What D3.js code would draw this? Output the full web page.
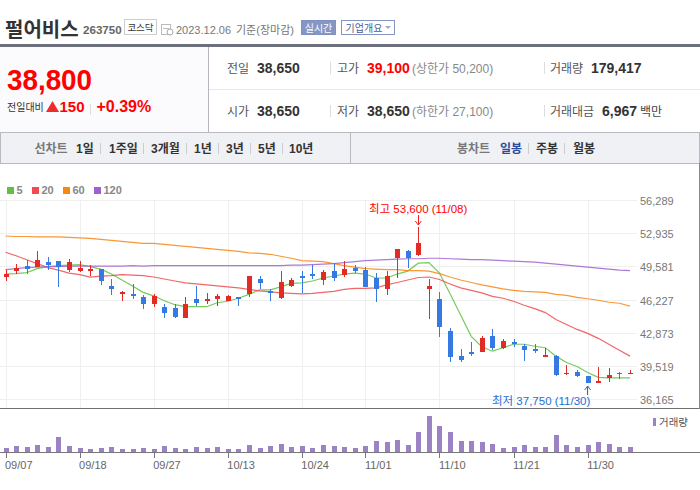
<!DOCTYPE html>
<html>
<head>
<meta charset="utf-8">
<script src="https://d3js.org/d3.v7.min.js"></script>
<style>
  html, body { margin: 0; padding: 0; background: #fff; }
  svg { display: block; font-family: "Liberation Sans", "Noto Sans CJK KR", sans-serif; }
</style>
</head>
<body>
<svg id="chart" width="700" height="490"></svg>
<script>
// values
var dates = ['09/07','09/08','09/11','09/12','09/13','09/14','09/15','09/18','09/19','09/20',
  '09/21','09/22','09/25','09/26','09/27','10/04','10/05','10/06','10/10','10/11',
  '10/12','10/13','10/16','10/17','10/18','10/19','10/20','10/23','10/24','10/25',
  '10/26','10/27','10/30','10/31','11/01','11/02','11/03','11/06','11/07','11/08',
  '11/09','11/10','11/13','11/14','11/15','11/16','11/17','11/20','11/21','11/22',
  '11/23','11/24','11/27','11/28','11/29','11/30','12/01','12/04','12/05','12/06'];
var opens = [48500,49100,49600,49500,50000,50100,49200,49100,49100,49300,
  47600,46750,46750,46450,45750,45450,45350,44350,46250,46050,
  46250,46050,46450,46750,48300,47050,46350,47600,48600,48800,
  48200,49100,48700,49400,49200,48400,47250,50400,51100,50750,
  47250,46250,43050,40500,40900,40900,42550,41300,41900,41500,
  41200,40500,40500,38700,38900,38500,37800,38300,38800,38650];
var highs = [49250,49850,50250,51100,50500,50100,50300,50100,49700,49300,
  48300,47050,47800,46650,46750,45750,45750,46450,47600,46850,
  46750,46650,46450,48600,48600,47250,49100,48400,49100,49700,
  49200,49900,50100,49700,49500,48900,49100,51300,51200,53600,
  48300,46950,43350,41200,41900,42550,43250,42200,42200,41700,
  41700,41300,40600,39600,39100,38500,39400,39300,38900,39100];
var lows = [48100,48800,48800,49500,49200,47500,49000,49000,48600,47700,
  46650,46050,46250,45250,45450,44350,44350,44350,45550,45750,
  45550,46050,45550,46450,47250,46050,46250,47500,46850,48300,
  47700,48100,48500,48900,47500,45950,46650,48400,49400,50650,
  44250,42450,39900,39900,40500,40900,41100,41200,41400,40000,
  40800,40400,38500,38600,38400,37750,37750,37900,38200,38650];
var closes = [48800,49400,49300,50200,49700,49500,50000,49400,49300,48100,
  47300,46950,46550,45750,46550,44850,44450,45750,45850,46250,
  46550,46550,46250,48600,47900,46850,48000,48200,48400,48600,
  49000,48400,49300,49100,47500,47250,48600,51300,50400,51900,
  47600,43450,40400,40100,40700,42300,41300,42000,41700,41100,
  41000,40600,38600,38800,38500,37750,38000,38600,38700,38800];
var ma5 = [48800,48850,48950,49350,49550,49650,49700,49750,49550,49300,
  48800,48200,47600,46950,46600,46100,45700,45500,45500,45500,
  45900,46050,46350,46750,47200,47200,47500,47850,47900,48100,
  48400,48600,48800,48900,48800,48400,48400,48800,49100,49900,
  49950,48900,46800,44650,42500,41450,41000,41350,41700,41700,
  41500,41350,40500,39850,39450,38850,38350,38300,38300,38300];
var ma20 = [51000,50650,50250,49850,49450,49200,48900,48750,48500,48600,
  48650,48750,48700,48650,48500,48300,48100,47900,47800,47700,
  47600,47500,47400,47250,47100,47000,46900,46850,46800,46850,
  46950,47050,47250,47350,47350,47400,47700,47950,48200,48450,
  48500,48250,47800,47400,47150,46900,46550,46350,46050,45650,
  45300,44900,44200,43700,43200,42800,42300,41700,41100,40500];
var ma60 = [52650,52600,52600,52550,52550,52550,52500,52450,52400,52300,
  52200,52100,52000,51900,51900,51800,51700,51600,51500,51400,
  51300,51200,51100,50950,50900,50800,50600,50400,50150,50100,
  50050,49850,49650,49500,49350,49300,49250,49250,49150,49150,
  49100,48850,48500,48200,47950,47700,47500,47300,47150,47050,
  47000,46950,46750,46650,46450,46300,46150,45950,45850,45550];
var ma120 = [49250,49350,49450,49500,49550,49550,49600,49600,49600,49600,
  49600,49600,49650,49600,49650,49650,49650,49650,49650,49650,
  49650,49650,49650,49650,49650,49650,49650,49700,49700,49750,
  49800,49850,49950,50050,50150,50200,50250,50300,50350,50350,
  50400,50400,50350,50300,50250,50250,50200,50150,50100,50050,
  50000,49900,49800,49700,49600,49500,49400,49300,49200,49150];
var volumes = [146000,213000,179000,246000,179000,515000,213000,146000,112000,146000,
  179000,112000,112000,146000,112000,213000,146000,112000,179000,146000,
  179000,112000,112000,246000,146000,213000,280000,179000,213000,146000,
  246000,213000,179000,146000,213000,381000,347000,414000,246000,683000,
  1221000,885000,683000,381000,381000,347000,280000,146000,179000,246000,
  179000,179000,582000,246000,179000,246000,347000,280000,179000,179417];

var priceTicks = [36165,39519,42873,46227,49581,52935,56289];
var dateTicks = ['09/07','09/18','09/27','10/13','10/24','11/01','11/10','11/21','11/30'];
var maNames = ['5','20','60','120'];
var maColors = ['#5fc13f','#f04b4f','#f98512','#a060d0'];
var maSeries = [ma5, ma20, ma60, ma120];

var svg = d3.select('#chart');
var x = d3.scalePoint().domain(dates).range([5.5, 630]);
var y = d3.scaleLinear().domain([36165, 56289]).range([399, 200]);
var yVol = d3.scaleLinear().domain([0, 1221000]).range([452, 416]);

function label(px, py, str, size, color, weight, anchor) {
  return svg.append('text').attr('x', px).attr('y', py).text(str)
    .style('font-size', size + 'px').style('fill', color)
    .style('font-weight', weight || 'normal')
    .attr('text-anchor', anchor || 'start');
}
function box(px, py, w, h, fill, stroke) {
  return svg.append('rect').attr('x', px).attr('y', py).attr('width', w).attr('height', h)
    .style('fill', fill).style('stroke', stroke || 'none').attr('shape-rendering', 'crispEdges');
}
function rule(x1, y1, x2, y2, color, width) {
  return svg.append('line').attr('x1', x1).attr('y1', y1).attr('x2', x2).attr('y2', y2)
    .style('stroke', color).style('stroke-width', width || 1).attr('shape-rendering', 'crispEdges');
}

// title row
label(5, 37, '펄어비스', 20, '#333', 'bold');
label(83, 34, '263750', 11.6, '#666', 'bold');
box(124.5, 19.5, 32, 15, '#fff', '#ccc');
label(140.5, 31, '코스닥', 9.5, '#333', 'normal', 'middle');
box(161.5, 24.5, 9, 10, '#fff', '#bbb');
rule(163, 28, 169, 28, '#bbb');
svg.append('circle').attr('cx', 170).attr('cy', 32).attr('r', 3).style('fill', '#fff').style('stroke', '#aaa');
label(176, 34, '2023.12.06', 11, '#777');
label(236, 34, '기준(장마감)', 11, '#777');
box(301.5, 20.5, 34, 14, '#8496c4', '#7f92c0');
label(318.5, 32, '실시간', 10, '#fff', 'normal', 'middle');
box(341.5, 20.5, 53, 14, '#fff', '#8295c2');
label(364, 32, '기업개요', 10, '#4a5c9a', 'normal', 'middle');
svg.append('path').attr('d', d3.line()([[385, 26], [391, 26], [388, 29]])).style('fill', '#9aa8cc');

// quote panel
box(0, 47, 208, 85, '#fbfafc');
box(0, 44, 700, 3, '#6c6f7c');
rule(208.5, 47, 208.5, 132, '#b5b6bd');
rule(209, 89.5, 700, 89.5, '#e8e8e8');
label(7, 90, '38,800', 30, '#f00', 'bold').attr('textLength', 85).attr('lengthAdjust', 'spacingAndGlyphs');
label(7, 111, '전일대비', 10, '#333');
svg.append('path').attr('d', d3.line()([[46, 112], [59, 112], [52.5, 101]])).style('fill', '#ee2a2a');
label(59.5, 112, '150', 15, '#f00', 'bold');
rule(90.5, 104, 90.5, 115, '#ddd');
label(96.5, 112, '+0.39%', 16, '#f00', 'bold');

[[73, '전일', '38,650', '고가', '39,100', '#f00', '(상한가 50,200)', '거래량', '179,417', 591],
 [116, '시가', '38,650', '저가', '38,650', '#333', '(하한가 27,100)', '거래대금', '6,967', 602]]
  .forEach(function(r) {
    label(227, r[0], r[1], 12, '#555');
    label(257, r[0], r[2], 14, '#333', 'bold');
    rule(330.5, r[0] - 11, 330.5, r[0] + 1, '#ddd');
    label(337, r[0], r[3], 12, '#555');
    label(367, r[0], r[4], 14, r[5], 'bold');
    label(412, r[0], r[6], 12, '#888');
    rule(544.5, r[0] - 11, 544.5, r[0] + 1, '#ddd');
    label(550, r[0], r[7], 12, '#555');
    label(r[9], r[0], r[8], 14, '#333', 'bold');
  });
label(640, 116, '백만', 12, '#444');

// period toolbar
box(0.5, 132.5, 699, 31, '#f0f1f5', '#b9bac1');
rule(350.5, 133, 350.5, 163, '#b9bac1');
label(34.5, 153, '선차트', 12, '#777', 'bold');
label(76, 153, '1일', 12, '#333', 'bold');
label(109, 153, '1주일', 12, '#333', 'bold');
label(151, 153, '3개월', 12, '#333', 'bold');
label(194, 153, '1년', 12, '#333', 'bold');
label(226, 153, '3년', 12, '#333', 'bold');
label(258, 153, '5년', 12, '#333', 'bold');
label(289, 153, '10년', 12, '#333', 'bold');
[100, 143, 186, 218, 250, 282, 528, 564].forEach(function(d) {
  rule(d + 0.5, 143, d + 0.5, 154, '#ccc');
});
label(457, 153, '봉차트', 12, '#777', 'bold');
label(500, 153, '일봉', 12, '#2b4aa0', 'bold');
label(536, 153, '주봉', 12, '#333', 'bold');
label(573, 153, '월봉', 12, '#333', 'bold');

// legend
var legendX = [7, 32, 63, 94];
maNames.forEach(function(d, i) {
  box(legendX[i], 187, 7, 7, maColors[i]);
  label(legendX[i] + 9.5, 194, d, 11, '#888', 'bold');
});

// grid and price axis
var grid = svg.append('g').attr('transform', 'translate(637,0)')
  .call(d3.axisRight(y).tickValues(priceTicks).tickSize(-637).tickPadding(3).tickFormat(d3.format(',')));
grid.select('.domain').remove();
grid.selectAll('.tick line').style('stroke', '#efefef').attr('shape-rendering', 'crispEdges');
grid.selectAll('.tick text').style('font-size', '11px').style('fill', '#777')
  .style('font-family', 'inherit').attr('x', 3).attr('y', 1);

var vgrid = svg.append('g').attr('transform', 'translate(0,409)')
  .call(d3.axisBottom(x).tickValues(dateTicks).tickSize(-209).tickFormat(''));
vgrid.select('.domain').remove();
vgrid.selectAll('.tick line').style('stroke', '#efefef').attr('shape-rendering', 'crispEdges');

// moving averages
var line = d3.line().x(function(d, i) { return x(dates[i]); }).y(function(d) { return y(d); });
svg.selectAll('.ma').data(maSeries).enter().append('path')
  .attr('class', 'ma')
  .attr('d', line)
  .style('fill', 'none')
  .style('stroke', function(d, i) { return maColors[i]; })
  .style('stroke-width', 1.2)
  .style('stroke-opacity', 0.85);

// candles
var candleColor = function(i) { return closes[i] >= opens[i] ? '#e22b24' : '#3579e2'; };
var candle = svg.selectAll('.candle').data(dates).enter().append('g')
  .attr('class', 'candle');
candle.append('rect')
  .attr('x', function(d) { return Math.round(x(d)) - 0.5; })
  .attr('width', 1)
  .attr('y', function(d, i) { return y(highs[i]); })
  .attr('height', function(d, i) { return y(lows[i]) - y(highs[i]); })
  .style('fill', function(d, i) { return candleColor(i); })
  .attr('shape-rendering', 'crispEdges');
candle.append('rect')
  .attr('x', function(d) { return Math.round(x(d)) - 2.5; })
  .attr('width', 5)
  .attr('y', function(d, i) { return y(Math.max(opens[i], closes[i])); })
  .attr('height', function(d, i) { return Math.max(1.5, Math.abs(y(opens[i]) - y(closes[i]))); })
  .style('fill', function(d, i) { return candleColor(i); })
  .attr('shape-rendering', 'crispEdges');

// high and low callouts
function arrow(px, y1, y2, color) {
  var dir = y2 > y1 ? -1 : 1;
  rule(px, y1, px, y2, color);
  svg.append('path').attr('d', d3.line()([[px - 3, y2 + dir * 4], [px, y2], [px + 3, y2 + dir * 4]]))
    .style('fill', 'none').style('stroke', color);
}
label(369, 213, '최고 53,600 (11/08)', 11.5, '#f00');
arrow(x('11/08'), 215, 225, '#e22');
label(492, 405, '최저 37,750 (11/30)', 11.5, '#1c6fd6');
arrow(x('11/30'), 395, 386, '#1c6fd6');

// panel frames
rule(0, 408.5, 700, 408.5, '#6f6f6f');
rule(699.5, 163, 699.5, 409, '#8a8a8a');

// volume
svg.selectAll('.vol').data(volumes).enter().append('rect')
  .attr('class', 'vol')
  .attr('x', function(d, i) { return Math.round(x(dates[i])) - 2.5; })
  .attr('width', 5)
  .attr('y', function(d) { return yVol(d); })
  .attr('height', function(d) { return yVol(0) - yVol(d); })
  .style('fill', '#9b82c4')
  .attr('shape-rendering', 'crispEdges');
box(653, 418, 3, 8, '#9b82c4');
label(659, 426, '거래량', 10.5, '#555');

var xAxis = svg.append('g').attr('transform', 'translate(0,452.5)')
  .call(d3.axisBottom(x).tickValues(dateTicks).tickSize(5).tickPadding(4));
xAxis.select('.domain').remove();
rule(0, 452.5, 700, 452.5, '#777');
xAxis.selectAll('.tick line').style('stroke', '#777').attr('shape-rendering', 'crispEdges');
xAxis.selectAll('.tick text').attr('text-anchor', 'start').attr('x', -1)
  .style('font-size', '11px').style('fill', '#666').style('font-family', 'inherit');
</script>
</body>
</html>
